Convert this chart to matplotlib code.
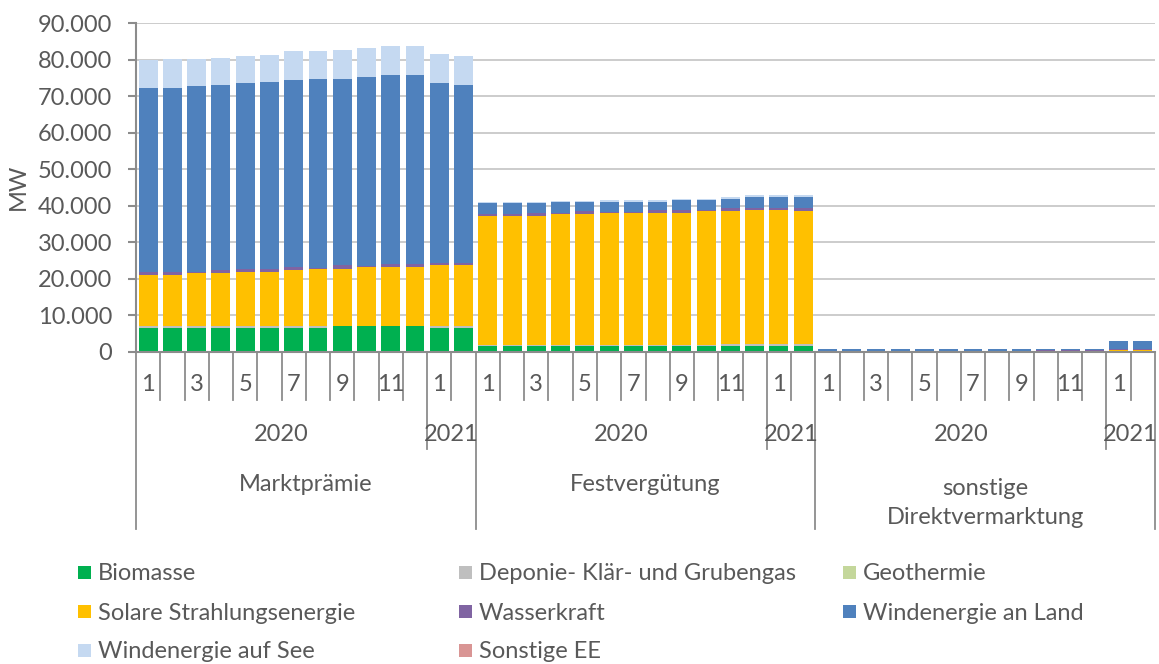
import numpy as np
import matplotlib.pyplot as plt
from matplotlib.patches import Rectangle
from matplotlib.ticker import FuncFormatter

plt.rcParams['font.family'] = ['Lato', 'DejaVu Sans']

# installed capacity in MW, 14 months per group (1/2020 .. 2/2021)
groups = ["Marktprämie", "Festvergütung", "sonstige\nDirektvermarktung"]
month_labels = ["1", "", "3", "", "5", "", "7", "", "9", "", "11", "", "1", ""]
years = ["2020", "2021"]

biomasse = ([6700] * 8 + [7100] * 4 + [6700] * 2
            + [1700] * 14
            + [50] * 9 + [0] * 3 + [0] * 2)
deponie = ([350] * 8 + [50] * 4 + [350] * 2
           + [100] * 10 + [450] * 4
           + [0] * 14)
geothermie = [30] * 14 + [20] * 14 + [0] * 14
solar = ([13900, 13900, 14400, 14400, 14800, 14800, 15300, 15700, 15600, 16000, 16000, 16000, 16600, 16600]
         + [35500, 35500, 35500, 35900, 35900, 36300, 36300, 36300, 36300, 36800, 36400, 36800, 36800, 36400]
         + [50] * 9 + [400] * 3 + [450] * 2)
wasser = ([900, 900, 450, 900, 900, 900, 800, 300, 900, 450, 1000, 1000, 550, 800]
          + [450, 450, 800, 350, 750, 300, 300, 800, 800, 300, 800, 300, 300, 800]
          + [300] * 9 + [150] * 3 + [250] * 2)
wind_land = ([50300, 50300, 50800, 50700, 50700, 51100, 51200, 51700, 51100, 51700, 51500, 51500, 49300, 48600]
             + [3050, 3050, 2700, 3000, 2600, 2700, 2700, 2200, 2700, 2700, 2600, 3200, 3200, 3100]
             + [400] * 9 + [300] * 3 + [2300] * 2)
wind_see = ([7600, 7900, 7400, 7400, 7500, 7500, 7900, 7500, 7900, 7900, 7900, 7900, 7900, 7900]
            + [350] * 14
            + [100] * 9 + [50] * 3 + [50] * 2)
sonstige = [0] * 14 + [0] * 14 + [0] * 12 + [30] * 2

series = [
    ("Biomasse", biomasse, "#00B050"),
    ("Deponie- Klär- und Grubengas", deponie, "#BFBFBF"),
    ("Geothermie", geothermie, "#C4D79B"),
    ("Solare Strahlungsenergie", solar, "#FFC000"),
    ("Wasserkraft", wasser, "#8064A2"),
    ("Windenergie an Land", wind_land, "#4F81BD"),
    ("Windenergie auf See", wind_see, "#C5D9F1"),
    ("Sonstige EE", sonstige, "#D99594"),
]

W, H = 1159, 664
txt = "#595959"
fs = 17

fig = plt.figure(figsize=(W / 100, H / 100), dpi=100)
ax = fig.add_axes([136 / W, 1 - 352 / H, (1155 - 136) / W, 329 / H])

x = np.arange(42)
bottom = np.zeros(42)
for name, vals, color in series:
    vals = np.array(vals, dtype=float)
    ax.bar(x, vals, 0.78, bottom=bottom, color=color, linewidth=0, zorder=3)
    bottom += vals

ax.set_xlim(-0.5, 41.5)
ax.set_ylim(0, 90000)
ax.set_yticks(np.arange(0, 90001, 10000))
ax.yaxis.set_major_formatter(FuncFormatter(lambda v, p: f"{v:,.0f}".replace(",", ".")))
ax.grid(axis="y", color="#C8C8C8", linewidth=1.3, zorder=0)
ax.set_xticks([])
for s in ["top", "right"]:
    ax.spines[s].set_visible(False)
for s in ["left", "bottom"]:
    ax.spines[s].set_color("#8C8C8C")
    ax.spines[s].set_linewidth(1.5)
    ax.spines[s].set_zorder(4)
ax.tick_params(axis="y", length=6, width=1.5, color="#8C8C8C", pad=11, labelsize=fs, labelcolor=txt)

fig.text(18 / W, 1 - 187 / H, "MW", rotation=90, ha="center", va="center", fontsize=fs, color=txt)

# multi level category axis
tr = ax.get_xaxis_transform()
line_kw = dict(color="#8C8C8C", linewidth=1.3, clip_on=False, transform=tr)
for b in np.arange(-0.5, 42, 1.0):
    if (b + 0.5) % 14 == 0:
        depth = -0.538
    elif (b + 0.5) % 14 == 12:
        depth = -0.295
    else:
        depth = -0.146
    ax.plot([b, b], [0, depth], **line_kw)

for g, gname in enumerate(groups):
    start = g * 14
    for i, lab in enumerate(month_labels):
        ax.text(start + i, -0.100, lab, transform=tr, ha="center", va="center", fontsize=fs, color=txt)
    ax.text(start + 5.5, -0.252, years[0], transform=tr, ha="center", va="center", fontsize=fs, color=txt)
    ax.text(start + 12.5, -0.252, years[1], transform=tr, ha="center", va="center", fontsize=fs, color=txt)
    gy = -0.404 if "\n" not in gname else -0.458
    ax.text(start + 6.5, gy, gname, transform=tr, ha="center", va="center", fontsize=fs, color=txt,
            linespacing=1.45)

# legend in three columns
col_x = [78, 459, 843]
row_y = [572, 611, 650]
for k, (name, vals, color) in enumerate(series):
    cx = col_x[k % 3]
    cy = row_y[k // 3]
    fig.patches.append(Rectangle((cx / W, 1 - (cy + 6.5) / H), 12.5 / W, 13 / H,
                                 transform=fig.transFigure, facecolor=color, edgecolor="none"))
    fig.text((cx + 20) / W, 1 - cy / H, name, ha="left", va="center_baseline", fontsize=fs, color=txt)

fig.savefig("out.png", dpi=100)
